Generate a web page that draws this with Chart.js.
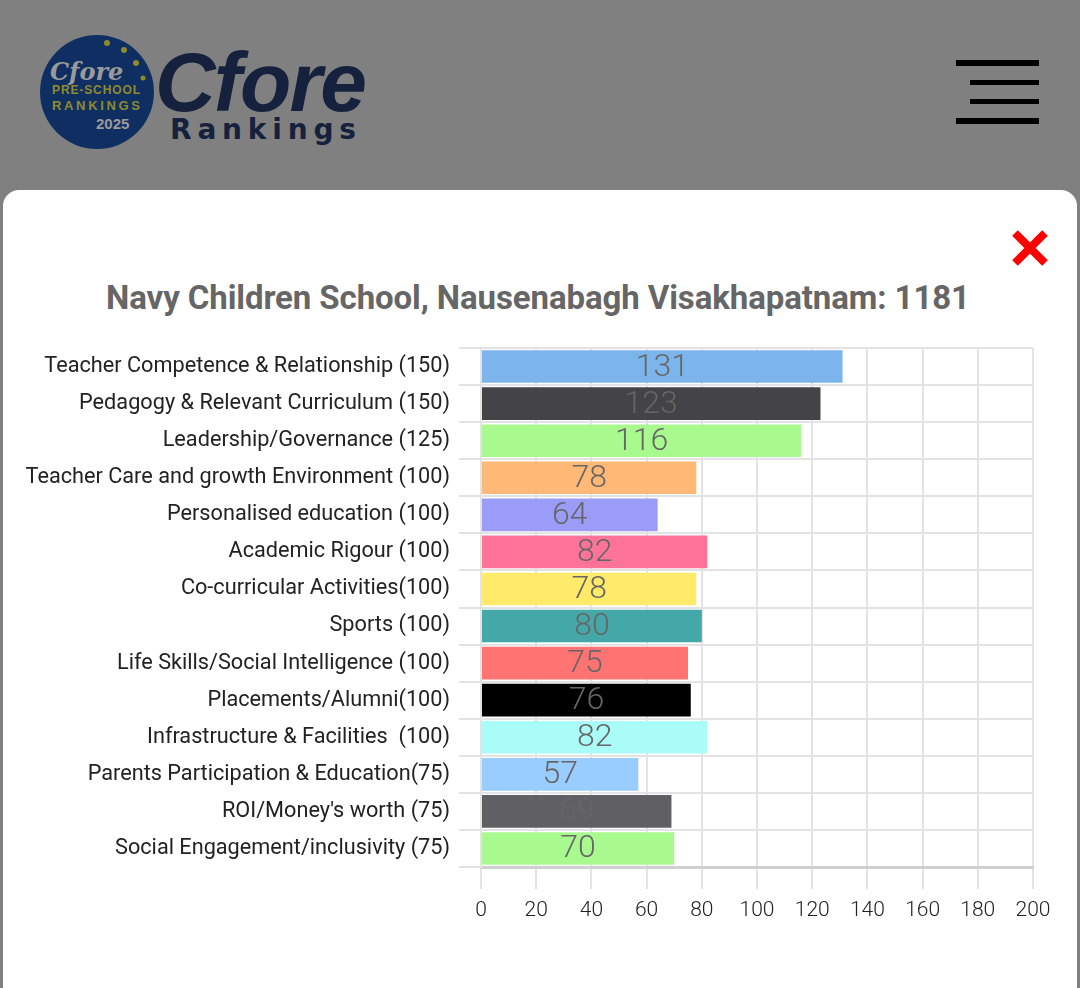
<!DOCTYPE html>
<html>
<head>
<meta charset="utf-8">
<script src="https://cdn.jsdelivr.net/npm/chart.js@4.4.1/dist/chart.umd.min.js"></script>
<style>
  html, body { margin:0; padding:0; width:1080px; height:988px; overflow:hidden; background:#808080; font-family:Roboto, sans-serif; }
  .header { position:absolute; left:0; top:0; width:1080px; height:190px; background:#808080; }
  .burger span { position:absolute; background:#000; height:6px; right:41px; }
  .modal { position:absolute; left:3px; top:190px; width:1074px; height:820px; background:#fff; border-radius:16px 16px 0 0; }
  .title { position:absolute; left:0; top:278px; width:1076px; text-align:center; font-weight:700; font-size:33px; color:#666; letter-spacing:-0.1px; }
  .chartbox { position:absolute; left:0; top:326px; width:1080px; height:614px; }
</style>
</head>
<body>
<div class="header">
  <svg width="380" height="170" style="position:absolute;left:0;top:0">
    <circle cx="97" cy="92" r="57" fill="#0f2f62"/>
    <g fill="#8f8a2c">
      <circle cx="107" cy="43" r="3"/><circle cx="124" cy="50" r="3"/><circle cx="136" cy="63" r="3"/><circle cx="143" cy="78" r="2.5"/>
    </g>
    <text x="50" y="80" font-family="DejaVu Serif" font-style="italic" font-weight="700" font-size="24" fill="#9a9a9a">Cfore</text>
    <text x="52" y="94" font-family="Liberation Sans" font-weight="700" font-size="12" fill="#8f8a2c" textLength="88">PRE-SCHOOL</text>
    <text x="52" y="110" font-family="Liberation Sans" font-weight="700" font-size="13" fill="#8f8a2c" textLength="88">RANKINGS</text>
    <text x="96" y="129" font-family="Liberation Sans" font-weight="700" font-size="15" fill="#9a9a9a">2025</text>
    <text x="155" y="111" font-family="Liberation Sans" font-style="italic" font-weight="700" font-size="84" fill="#15213d" textLength="212">Cfore</text>
    <text x="170" y="139" font-family="DejaVu Sans" font-weight="700" font-size="28" fill="#15213d" textLength="186">Rankings</text>
  </svg>
  <div class="burger">
    <span style="top:60px;width:83px"></span>
    <span style="top:80px;width:69px;height:5px"></span>
    <span style="top:99px;width:69px;height:5px"></span>
    <span style="top:118px;width:83px"></span>
  </div>
</div>
<div class="modal"></div>
<svg width="40" height="40" style="position:absolute;left:1010px;top:228px">
  <line x1="5" y1="5" x2="35" y2="35" stroke="#f00" stroke-width="8"/>
  <line x1="35" y1="5" x2="5" y2="35" stroke="#f00" stroke-width="8"/>
</svg>
<div class="title">Navy Children School, Nausenabagh Visakhapatnam: 1181</div>
<div class="chartbox"><canvas id="scoreChart"></canvas></div>
<script>
const categories = [
  'Teacher Competence & Relationship (150)',
  'Pedagogy & Relevant Curriculum (150)',
  'Leadership/Governance (125)',
  'Teacher Care and growth Environment (100)',
  'Personalised education (100)',
  'Academic Rigour (100)',
  'Co-curricular Activities(100)',
  'Sports (100)',
  'Life Skills/Social Intelligence (100)',
  'Placements/Alumni(100)',
  'Infrastructure & Facilities  (100)',
  'Parents Participation & Education(75)',
  "ROI/Money's worth (75)",
  'Social Engagement/inclusivity (75)'
];
const scores = [131,123,116,78,64,82,78,80,75,76,82,57,69,70];
const barColors = ['#7cb5ec','#434348','#a8fa8f','#ffb875','#9a9cf8','#ff7399','#ffea6a',
                   '#45a8a8','#ff7373','#000000','#aafcf8','#99ccff','#5f5f64','#a8fa8f'];
const xTicks = [0,20,40,60,80,100,120,140,160,180,200];

const valueLabels = {
  id: 'valueLabels',
  afterDatasetsDraw(chart){
    const ctx = chart.ctx;
    const meta = chart.getDatasetMeta(0);
    ctx.save();
    ctx.font = '300 32px Roboto';
    ctx.fillStyle = '#666';
    ctx.textAlign = 'center';
    ctx.textBaseline = 'middle';
    meta.data.forEach(function(bar, i){
      ctx.fillText(String(scores[i]), (bar.x + bar.base) / 2, bar.y + 1);
    });
    ctx.restore();
  }
};

DocumentReady(function(){
  const ctx = document.getElementById('scoreChart');
  new Chart(ctx, {
    type: 'bar',
    data: {
      labels: categories,
      datasets: [{
        data: scores,
        backgroundColor: barColors,
        borderWidth: 0,
        categoryPercentage: 1,
        barPercentage: 0.88
      }]
    },
    plugins: [valueLabels],
    options: {
      indexAxis: 'y',
      responsive: true,
      maintainAspectRatio: false,
      animation: false,
      layout: { padding: { top: 8, right: 47, bottom: 3, left: 0 } },
      plugins: { legend: { display:false }, tooltip: { enabled:false } },
      scales: {
        x: {
          min: 0, max: 200,
          afterBuildTicks: function(scale){ scale.ticks = xTicks.map(function(v){ return {value:v}; }); },
          afterFit: function(scale){ scale.height = 70; },
          grid: { color:'#e3e3e3', lineWidth:2, tickLength:22 },
          border: { color:'#d0d0d0', width:3 },
          ticks: { color:'#222', padding:9, font:{ family:'Roboto', size:21, weight:'300' } }
        },
        y: {
          afterFit: function(scale){ scale.width = 481; },
          grid: { color:'#e3e3e3', lineWidth:2, tickLength:22 },
          border: { color:'#e3e3e3', width:2 },
          ticks: { color:'#222', padding:9, font:{ family:'Roboto', size:21.7 } }
        }
      }
    }
  });
});

function DocumentReady(cb){
  if(document.readyState!=='loading')cb();
  else document.addEventListener('DOMContentLoaded',cb);
}
</script>
</body>
</html>
